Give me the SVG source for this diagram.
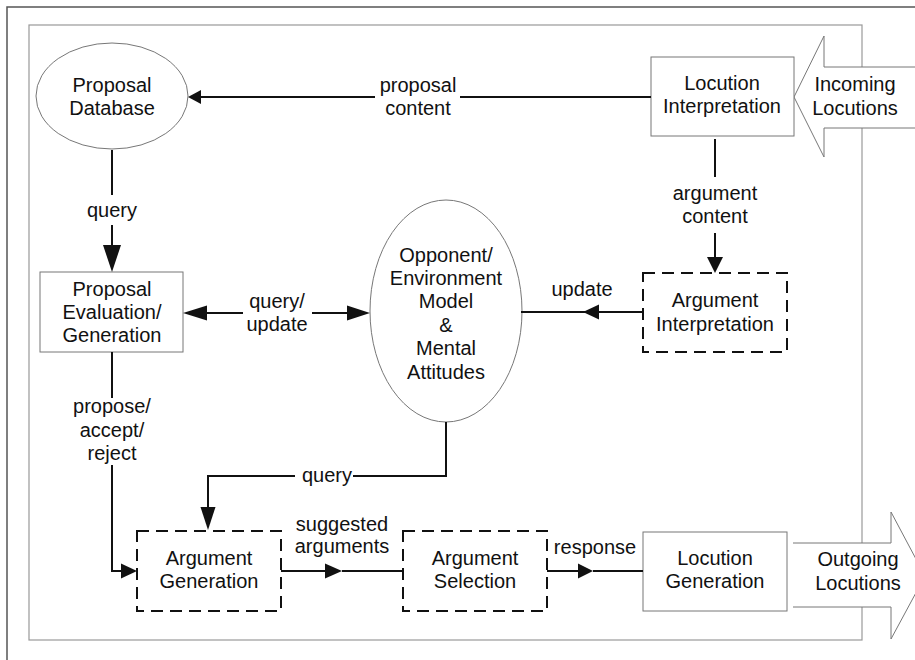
<svg xmlns="http://www.w3.org/2000/svg" width="915" height="660" viewBox="0 0 915 660">
<style>
text{font-family:"Liberation Sans",Arial,sans-serif;font-size:20px;fill:#111;text-anchor:middle}
.node{fill:#fff;stroke:#777;stroke-width:1}
.dash{fill:#fff;stroke:#111;stroke-width:2;stroke-dasharray:12 7}
.big{fill:#fff;stroke:#777;stroke-width:1}
.ln{fill:none;stroke:#111;stroke-width:2}
.ah{fill:#111;stroke:none}
</style>
<rect width="915" height="660" fill="#fff"/>
<g id="frames">
<path d="M7,660 V7 H915" fill="none" stroke="#555" stroke-width="1.5"/>
<rect x="29" y="25" width="833" height="615" fill="none" stroke="#999" stroke-width="1.2"/>
</g>
<g id="incoming">
<path class="big" d="M918,67 H824 V36 L794,97 L824,157 V128 H918"/>
<text x="855" y="91">Incoming</text>
<text x="855" y="115">Locutions</text>
</g>
<g id="outgoing">
<path class="big" d="M793,543 H891 V512 L925,576 L891,639 V607 H793"/>
<text x="858" y="566">Outgoing</text>
<text x="858" y="590">Locutions</text>
</g>
<g id="proposal-database">
<ellipse class="node" cx="112" cy="96" rx="76" ry="53"/>
<text x="112" y="92">Proposal</text>
<text x="112" y="115">Database</text>
</g>
<g id="locution-interpretation">
<rect class="node" x="651" y="57" width="143" height="79"/>
<text x="722" y="90">Locution</text>
<text x="722" y="113">Interpretation</text>
</g>
<g id="proposal-evaluation">
<rect class="node" x="40" y="272" width="143" height="80"/>
<text x="112" y="296">Proposal</text>
<text x="112" y="319">Evaluation/</text>
<text x="112" y="342">Generation</text>
</g>
<g id="opponent-model">
<ellipse class="node" cx="446" cy="311" rx="76" ry="111"/>
<text x="446" y="262">Opponent/</text>
<text x="446" y="285">Environment</text>
<text x="446" y="308">Model</text>
<text x="446" y="332">&amp;</text>
<text x="446" y="355">Mental</text>
<text x="446" y="379">Attitudes</text>
</g>
<g id="argument-interpretation">
<rect class="dash" x="643" y="273" width="144" height="79"/>
<text x="715" y="307">Argument</text>
<text x="715" y="331">Interpretation</text>
</g>
<g id="argument-generation">
<rect class="dash" x="137" y="531" width="144" height="80"/>
<text x="209" y="565">Argument</text>
<text x="209" y="588">Generation</text>
</g>
<g id="argument-selection">
<rect class="dash" x="403" y="531" width="144" height="80"/>
<text x="475" y="565">Argument</text>
<text x="475" y="588">Selection</text>
</g>
<g id="locution-generation">
<rect class="node" x="643" y="532" width="144" height="79"/>
<text x="715" y="565">Locution</text>
<text x="715" y="588">Generation</text>
</g>
<g id="connectors">
<path class="ln" d="M651,97 H460 M375,97 H200"/>
<polygon class="ah" points="188,97 201,90 201,104"/>
<text x="418" y="92">proposal</text>
<text x="418" y="115">content</text>

<path class="ln" d="M112,150 V195 M112,225 V246"/>
<polygon class="ah" points="112,272 103,245 121,245"/>
<text x="112" y="217">query</text>

<path class="ln" d="M715,139 V177 M715,233 V258"/>
<polygon class="ah" points="715,273 707,257 723,257"/>
<text x="715" y="200">argument</text>
<text x="715" y="223">content</text>

<path class="ln" d="M643,312 H521"/>
<polygon class="ah" points="583,312 599,304.5 599,319.5"/>
<text x="582" y="296">update</text>

<path class="ln" d="M206,313 H243 M312,313 H348"/>
<polygon class="ah" points="183,313 207,305.5 207,320.5"/>
<polygon class="ah" points="370,313 347,305.5 347,320.5"/>
<text x="277" y="308">query/</text>
<text x="277" y="331">update</text>

<path class="ln" d="M112,352 V398 M112,465 V571 H123"/>
<polygon class="ah" points="137,571 121,563.5 121,578.5"/>
<text x="112" y="413">propose/</text>
<text x="112" y="437">accept/</text>
<text x="112" y="460">reject</text>

<path class="ln" d="M446,422 V476 H353 M295,476 H208 V508"/>
<polygon class="ah" points="208,530 200.5,507 215.5,507"/>
<text x="327" y="482">query</text>

<path class="ln" d="M281,571 H326 M342,571 H403"/>
<polygon class="ah" points="342,571 325,563.5 325,578.5"/>
<text x="342" y="531">suggested</text>
<text x="342" y="553">arguments</text>

<path class="ln" d="M547,571 H579 M593,571 H643"/>
<polygon class="ah" points="593,571 578,563.5 578,578.5"/>
<text x="595" y="554">response</text>
</g>
</svg>
